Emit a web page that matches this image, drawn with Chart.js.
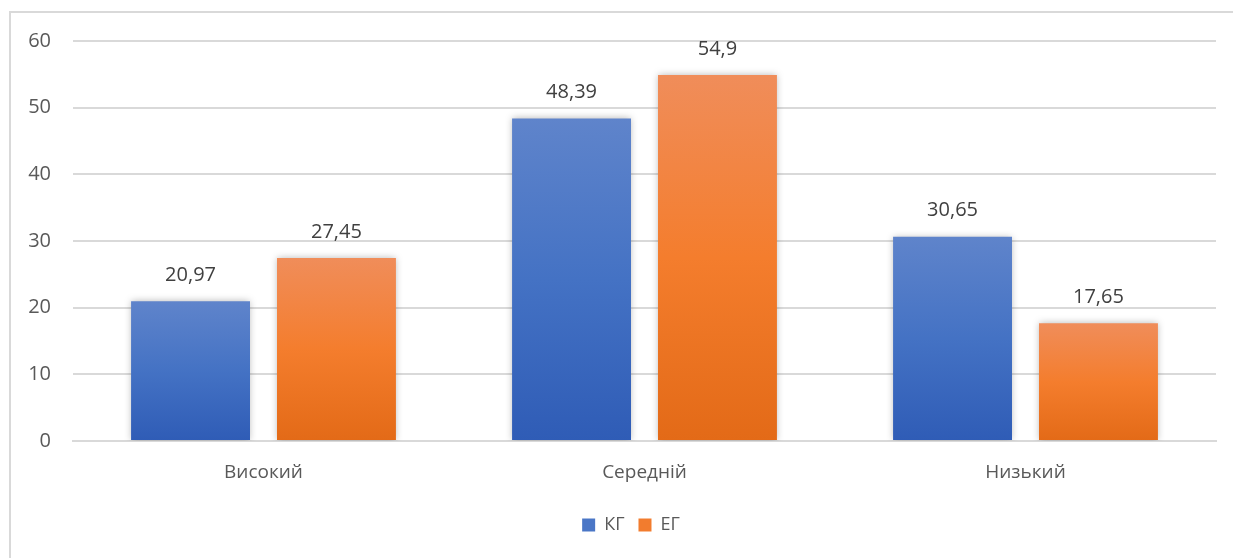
<!DOCTYPE html>
<html>
<head>
<meta charset="utf-8">
<script src="https://cdn.jsdelivr.net/npm/chart.js@4"></script>
<style>
  html, body { margin: 0; padding: 0; background: #fff; }
  #wrap { position: absolute; left: 0; top: 0; width: 1233px; height: 558px; }
</style>
</head>
<body>
<div id="wrap"><canvas id="chartcanvas" width="1233" height="558"></canvas></div>
<script>
// categories and series
var categories = ["Високий", "Середній", "Низький"];
var kgValues = [20.97, 48.39, 30.65];
var egValues = [27.45, 54.9, 17.65];
var seriesNames = ["КГ", "ЕГ"];
var yTicks = [0, 10, 20, 30, 40, 50, 60];

var FONT = "'Open Sans', 'Noto Sans', sans-serif";

//per-bar vertical gradient, lighter at top like the Excel fill
function barGradient(top, mid, bottom) {
	return function(context) {
		var chart = context.chart;
		var area = chart.chartArea;
		if (!area || context.type !== "data") return mid;
		var y = chart.scales.y;
		var yTop = y.getPixelForValue(context.raw);
		var yBase = y.getPixelForValue(0);
		var g = chart.ctx.createLinearGradient(0, yTop, 0, yBase);
		g.addColorStop(0, top);
		g.addColorStop(0.5, mid);
		g.addColorStop(1, bottom);
		return g;
	};
}

//outer frame + bar shadows + value labels
var framePlugin = {
	id: "frame",
	afterLayout: function(chart) {
		//legend sits a bit right of the plot centre in the original
		if (chart.legend) {
			chart.legend.left += 23;
			chart.legend.right += 23;
		}
	},
	beforeDraw: function(chart) {
		var ctx = chart.ctx;
		ctx.save();
		ctx.strokeStyle = "#d9d9d9";
		ctx.lineWidth = 2;
		ctx.strokeRect(10, 12, 1240, 560);
		ctx.restore();
	},
	beforeDatasetsDraw: function(chart) {
		var ctx = chart.ctx;
		ctx.save();
		ctx.shadowColor = "rgba(0,0,0,0.28)";
		ctx.shadowBlur = 7;
		ctx.shadowOffsetX = 0;
		ctx.shadowOffsetY = 0;
	},
	afterDatasetsDraw: function(chart) {
		var ctx = chart.ctx;
		ctx.restore();
		ctx.save();
		ctx.font = "20px " + FONT;
		ctx.fillStyle = "#404040";
		ctx.textAlign = "center";
		ctx.textBaseline = "middle";
		chart.data.datasets.forEach(function(ds, i) {
			var meta = chart.getDatasetMeta(i);
			meta.data.forEach(function(bar, j) {
				var txt = String(ds.data[j]).replace(".", ",");
				ctx.fillText(txt, bar.x, bar.y - 26);
			});
		});
		ctx.restore();
	}
};

var ctx = document.getElementById("chartcanvas");

var data = {
	labels: categories,
	datasets: [
		{
			label: seriesNames[0],
			data: kgValues,
			backgroundColor: barGradient("#5f84cb", "#4472c4", "#2f5cb6"),
			borderWidth: 0,
			categoryPercentage: 0.766,
			barPercentage: 0.815
		},
		{
			label: seriesNames[1],
			data: egValues,
			backgroundColor: barGradient("#f08d5a", "#f47d2d", "#e36a17"),
			borderWidth: 0,
			categoryPercentage: 0.766,
			barPercentage: 0.815
		}
	]
};

var options = {
	responsive: false,
	animation: false,
	layout: { padding: { left: 0, right: 17, top: 41, bottom: 14 } },
	plugins: {
		tooltip: { enabled: false },
		legend: {
			display: true,
			position: "bottom",
			labels: {
				boxWidth: 13,
				boxHeight: 13,
				padding: 14,
				color: "#595959",
				font: { family: FONT, size: 18 },
				generateLabels: function(chart) {
					var solid = ["#4a76c6", "#f27c2e"];
					return chart.data.datasets.map(function(ds, i) {
						return {
							text: ds.label,
							fillStyle: solid[i],
							strokeStyle: solid[i],
							lineWidth: 0,
							fontColor: "#595959",
							datasetIndex: i
						};
					});
				}
			}
		}
	},
	scales: {
		x: {
			grid: { display: false, drawTicks: false },
			border: { display: true, color: "#d9d9d9", width: 2 },
			ticks: { color: "#595959", font: { family: FONT, size: 19 }, padding: 20 },
			afterFit: function(scale) { scale.height = 61; }
		},
		y: {
			min: 0,
			max: 60,
			afterBuildTicks: function(scale) {
				scale.ticks = yTicks.map(function(v) { return { value: v }; });
			},
			grid: { color: "#d9d9d9", lineWidth: 2, drawTicks: false },
			border: { display: false },
			ticks: { color: "#595959", font: { family: FONT, size: 20 }, padding: 22 },
			afterFit: function(scale) { scale.width = 73; }
		}
	}
};

var barchart = new Chart(ctx, {
	type: "bar",
	data: data,
	options: options,
	plugins: [framePlugin]
});
</script>
</body>
</html>
